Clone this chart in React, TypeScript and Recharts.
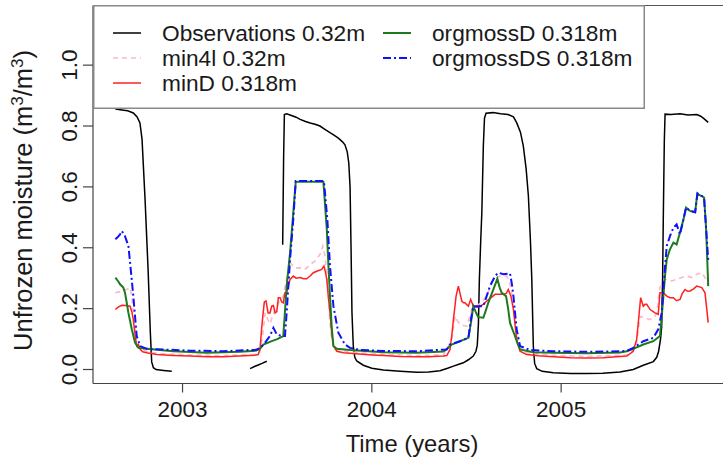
import React from 'react';
import { LineChart, Line, XAxis, YAxis, Legend, ReferenceLine, Label } from 'recharts';

type Pt = [number, number | null];

const FONT = '"Liberation Sans", Arial, Helvetica, sans-serif';

// time (decimal years) / unfrozen moisture
// null entries are the gaps in the observation record
const observations: Pt[] = [
  [2002.645, 0.856], [2002.68, 0.853], [2002.71, 0.85], [2002.74, 0.843], [2002.76, 0.83],
  [2002.775, 0.81], [2002.786, 0.757], [2002.802, 0.559], [2002.818, 0.329], [2002.83, 0.12],
  [2002.837, 0.025], [2002.846, 0.006], [2002.86, 0.0], [2002.9, -0.003], [2002.943, -0.006],
  [2003.1, null],
  [2003.357, 0.003], [2003.38, 0.01], [2003.4, 0.015], [2003.42, 0.02], [2003.445, 0.027],
  [2003.48, null],
  [2003.529, 0.41], [2003.534, 0.7], [2003.538, 0.838], [2003.55, 0.84], [2003.568, 0.836],
  [2003.6, 0.829], [2003.621, 0.822], [2003.65, 0.815], [2003.674, 0.81], [2003.7, 0.806],
  [2003.726, 0.8], [2003.75, 0.79], [2003.779, 0.778], [2003.8, 0.77], [2003.823, 0.76],
  [2003.845, 0.748], [2003.858, 0.738], [2003.87, 0.715], [2003.878, 0.68], [2003.885, 0.6],
  [2003.89, 0.406], [2003.895, 0.187], [2003.902, 0.077], [2003.91, 0.04], [2003.92, 0.028],
  [2003.955, 0.014], [2004.0, 0.004], [2004.061, -0.002], [2004.15, -0.006], [2004.237, -0.009],
  [2004.3, -0.008], [2004.36, -0.004], [2004.4, 0.004], [2004.431, 0.011], [2004.46, 0.017],
  [2004.483, 0.022], [2004.51, 0.032], [2004.536, 0.044], [2004.55, 0.06], [2004.557, 0.08],
  [2004.563, 0.15], [2004.568, 0.296], [2004.575, 0.42], [2004.581, 0.515], [2004.589, 0.735],
  [2004.595, 0.825], [2004.603, 0.842], [2004.64, 0.844], [2004.68, 0.84], [2004.72, 0.838],
  [2004.748, 0.83], [2004.765, 0.811], [2004.785, 0.78], [2004.8, 0.735], [2004.815, 0.66],
  [2004.827, 0.57], [2004.838, 0.42], [2004.845, 0.296], [2004.853, 0.077], [2004.86, 0.02],
  [2004.871, 0.003], [2004.9, -0.006], [2004.959, -0.011], [2005.05, -0.013], [2005.135, -0.013],
  [2005.22, -0.012], [2005.311, -0.008], [2005.381, 0.0], [2005.434, 0.014], [2005.487, 0.026],
  [2005.505, 0.04], [2005.515, 0.06], [2005.525, 0.1], [2005.531, 0.14], [2005.536, 0.3],
  [2005.54, 0.515], [2005.545, 0.75], [2005.549, 0.839], [2005.58, 0.838], [2005.628, 0.84],
  [2005.67, 0.836], [2005.716, 0.838], [2005.735, 0.833], [2005.751, 0.826], [2005.777, 0.812],
];

const min4l: Pt[] = [
  [2002.645, 0.252], [2002.665, 0.255], [2002.687, 0.261], [2002.705, 0.263], [2002.723, 0.269],
  [2002.732, 0.24], [2002.74, 0.186], [2002.75, 0.12], [2002.758, 0.088], [2002.776, 0.07],
  [2002.811, 0.06], [2002.864, 0.053], [2003.04, 0.048], [2003.216, 0.046], [2003.38, 0.05],
  [2003.409, 0.058], [2003.425, 0.12], [2003.436, 0.186], [2003.45, 0.165], [2003.462, 0.15],
  [2003.475, 0.175], [2003.489, 0.197], [2003.5, 0.205], [2003.515, 0.23], [2003.532, 0.24],
  [2003.55, 0.3], [2003.568, 0.351], [2003.594, 0.334], [2003.621, 0.334], [2003.647, 0.329],
  [2003.674, 0.345], [2003.7, 0.356], [2003.726, 0.378], [2003.741, 0.406], [2003.753, 0.373],
  [2003.762, 0.31], [2003.771, 0.241], [2003.78, 0.15], [2003.788, 0.099], [2003.806, 0.066],
  [2003.885, 0.057], [2004.061, 0.05], [2004.237, 0.046], [2004.378, 0.048], [2004.404, 0.077],
  [2004.422, 0.099], [2004.44, 0.175], [2004.452, 0.16], [2004.466, 0.148], [2004.501, 0.142],
  [2004.515, 0.17], [2004.528, 0.197], [2004.554, 0.208], [2004.58, 0.222], [2004.607, 0.241],
  [2004.625, 0.27], [2004.642, 0.296], [2004.677, 0.307], [2004.713, 0.307], [2004.73, 0.28],
  [2004.739, 0.252], [2004.752, 0.18], [2004.765, 0.121], [2004.783, 0.077], [2004.818, 0.055],
  [2004.959, 0.047], [2005.135, 0.043], [2005.311, 0.047], [2005.364, 0.049], [2005.399, 0.088],
  [2005.417, 0.175], [2005.443, 0.17], [2005.47, 0.164], [2005.49, 0.17], [2005.505, 0.186],
  [2005.515, 0.24], [2005.522, 0.269], [2005.549, 0.296], [2005.584, 0.291], [2005.61, 0.296],
  [2005.637, 0.302], [2005.663, 0.307], [2005.69, 0.302], [2005.716, 0.313], [2005.743, 0.318],
  [2005.766, 0.296], [2005.777, 0.274],
];

const minD: Pt[] = [
  [2002.645, 0.197], [2002.66, 0.205], [2002.679, 0.211], [2002.7, 0.21], [2002.723, 0.208],
  [2002.732, 0.19], [2002.74, 0.164], [2002.75, 0.11], [2002.758, 0.077], [2002.767, 0.082],
  [2002.776, 0.066], [2002.79, 0.058], [2002.811, 0.055], [2002.864, 0.049], [2002.95, 0.046],
  [2003.04, 0.044], [2003.13, 0.042], [2003.216, 0.042], [2003.3, 0.044], [2003.38, 0.047],
  [2003.4, 0.049], [2003.409, 0.066], [2003.42, 0.15], [2003.432, 0.222], [2003.441, 0.225],
  [2003.452, 0.186], [2003.462, 0.186], [2003.471, 0.208], [2003.48, 0.21], [2003.489, 0.186],
  [2003.498, 0.19], [2003.506, 0.236], [2003.515, 0.236], [2003.524, 0.222], [2003.532, 0.219],
  [2003.541, 0.252], [2003.55, 0.252], [2003.568, 0.296], [2003.585, 0.307], [2003.6, 0.3],
  [2003.621, 0.302], [2003.64, 0.298], [2003.656, 0.298], [2003.674, 0.307], [2003.691, 0.318],
  [2003.709, 0.323], [2003.735, 0.329], [2003.747, 0.34], [2003.755, 0.32], [2003.762, 0.296],
  [2003.77, 0.24], [2003.779, 0.186], [2003.788, 0.12], [2003.797, 0.077], [2003.815, 0.06],
  [2003.85, 0.055], [2003.885, 0.053], [2004.0, 0.048], [2004.061, 0.046], [2004.15, 0.043],
  [2004.237, 0.042], [2004.3, 0.042], [2004.378, 0.044], [2004.396, 0.046], [2004.413, 0.066],
  [2004.422, 0.11], [2004.431, 0.164], [2004.445, 0.241], [2004.457, 0.274], [2004.466, 0.25],
  [2004.475, 0.225], [2004.484, 0.219], [2004.492, 0.219], [2004.51, 0.208], [2004.522, 0.23],
  [2004.536, 0.208], [2004.554, 0.205], [2004.572, 0.208], [2004.59, 0.215], [2004.607, 0.225],
  [2004.63, 0.236], [2004.651, 0.247], [2004.695, 0.247], [2004.71, 0.25], [2004.721, 0.263],
  [2004.735, 0.24], [2004.748, 0.197], [2004.756, 0.15], [2004.765, 0.099], [2004.783, 0.06],
  [2004.818, 0.049], [2004.88, 0.045], [2004.959, 0.042], [2005.05, 0.039], [2005.135, 0.038],
  [2005.22, 0.039], [2005.311, 0.043], [2005.347, 0.044], [2005.381, 0.06], [2005.399, 0.099],
  [2005.41, 0.17], [2005.42, 0.236], [2005.434, 0.208], [2005.443, 0.214], [2005.452, 0.214],
  [2005.47, 0.197], [2005.496, 0.186], [2005.513, 0.181], [2005.518, 0.22], [2005.522, 0.252],
  [2005.54, 0.252], [2005.558, 0.241], [2005.575, 0.236], [2005.593, 0.236], [2005.61, 0.226],
  [2005.628, 0.23], [2005.64, 0.25], [2005.655, 0.263], [2005.668, 0.257], [2005.681, 0.258],
  [2005.7, 0.265], [2005.716, 0.274], [2005.743, 0.269], [2005.76, 0.252], [2005.777, 0.154],
];

const orgmossD: Pt[] = [
  [2002.645, 0.302], [2002.66, 0.29], [2002.67, 0.28], [2002.687, 0.269], [2002.696, 0.252],
  [2002.705, 0.22], [2002.714, 0.186], [2002.732, 0.132], [2002.749, 0.088], [2002.767, 0.071],
  [2002.811, 0.068], [2002.951, 0.06], [2003.128, 0.055], [2003.304, 0.058], [2003.39, 0.062],
  [2003.409, 0.068], [2003.427, 0.082], [2003.471, 0.093], [2003.5, 0.1], [2003.532, 0.11],
  [2003.54, 0.18], [2003.55, 0.274], [2003.568, 0.384], [2003.585, 0.515], [2003.598, 0.617],
  [2003.744, 0.617], [2003.753, 0.54], [2003.762, 0.461], [2003.77, 0.35], [2003.779, 0.241],
  [2003.788, 0.14], [2003.797, 0.077], [2003.815, 0.068], [2003.885, 0.064], [2004.061, 0.057],
  [2004.237, 0.055], [2004.378, 0.059], [2004.4, 0.07], [2004.422, 0.082], [2004.466, 0.093],
  [2004.51, 0.104], [2004.525, 0.16], [2004.536, 0.208], [2004.548, 0.19], [2004.562, 0.172],
  [2004.589, 0.17], [2004.6, 0.19], [2004.615, 0.219], [2004.642, 0.263], [2004.663, 0.298],
  [2004.675, 0.27], [2004.686, 0.252], [2004.709, 0.241], [2004.72, 0.2], [2004.73, 0.153],
  [2004.756, 0.11], [2004.77, 0.085], [2004.783, 0.066], [2004.853, 0.057], [2004.959, 0.055],
  [2005.135, 0.053], [2005.311, 0.056], [2005.347, 0.06], [2005.381, 0.068], [2005.434, 0.082],
  [2005.487, 0.093], [2005.522, 0.11], [2005.531, 0.17], [2005.54, 0.241], [2005.549, 0.31],
  [2005.558, 0.362], [2005.575, 0.395], [2005.593, 0.417], [2005.61, 0.411], [2005.628, 0.45],
  [2005.646, 0.493], [2005.66, 0.532], [2005.681, 0.521], [2005.708, 0.517], [2005.714, 0.55],
  [2005.72, 0.576], [2005.743, 0.57], [2005.755, 0.565], [2005.76, 0.52], [2005.766, 0.461],
  [2005.777, 0.274],
];

const orgmossDS: Pt[] = [
  [2002.645, 0.428], [2002.658, 0.435], [2002.67, 0.444], [2002.679, 0.455], [2002.688, 0.447],
  [2002.696, 0.438], [2002.714, 0.406], [2002.723, 0.351], [2002.74, 0.241], [2002.758, 0.11],
  [2002.776, 0.077], [2002.811, 0.068], [2003.04, 0.062], [2003.216, 0.06], [2003.39, 0.065],
  [2003.409, 0.071], [2003.436, 0.088], [2003.462, 0.11], [2003.48, 0.137], [2003.498, 0.115],
  [2003.524, 0.11], [2003.541, 0.11], [2003.55, 0.186], [2003.568, 0.362], [2003.585, 0.493],
  [2003.598, 0.619], [2003.747, 0.619], [2003.765, 0.493], [2003.779, 0.34], [2003.797, 0.208],
  [2003.823, 0.121], [2003.858, 0.082], [2003.885, 0.071], [2003.938, 0.064], [2004.061, 0.061],
  [2004.237, 0.06], [2004.396, 0.066], [2004.413, 0.082], [2004.466, 0.093], [2004.51, 0.104],
  [2004.525, 0.17], [2004.536, 0.208], [2004.562, 0.208], [2004.589, 0.208], [2004.624, 0.274],
  [2004.651, 0.307], [2004.668, 0.318], [2004.695, 0.313], [2004.73, 0.316], [2004.74, 0.28],
  [2004.748, 0.241], [2004.765, 0.132], [2004.783, 0.077], [2004.836, 0.064], [2004.959, 0.06],
  [2005.135, 0.058], [2005.311, 0.06], [2005.347, 0.061], [2005.381, 0.071], [2005.434, 0.093],
  [2005.487, 0.104], [2005.513, 0.132], [2005.531, 0.186], [2005.549, 0.34], [2005.558, 0.406],
  [2005.575, 0.438], [2005.593, 0.466], [2005.61, 0.477], [2005.628, 0.444], [2005.646, 0.493],
  [2005.66, 0.532], [2005.681, 0.521], [2005.708, 0.517], [2005.72, 0.579], [2005.743, 0.57],
  [2005.755, 0.565], [2005.766, 0.461], [2005.777, 0.36],
];

const xTicks = [2003, 2004, 2005];
const yTicks = [0, 0.2, 0.4, 0.6, 0.8, 1.0];

const series = [
  { name: 'Observations 0.32m', pts: observations, color: '#000000', width: 1.5, dash: undefined },
  { name: 'min4l 0.32m', pts: min4l, color: '#ffb6c8', width: 1.6, dash: '5 4' },
  { name: 'minD 0.318m', pts: minD, color: '#ff2020', width: 1.5, dash: undefined },
  { name: 'orgmossD 0.318m', pts: orgmossD, color: '#1e7a1e', width: 2, dash: undefined },
  { name: 'orgmossDS 0.318m', pts: orgmossDS, color: '#1010ff', width: 2, dash: '8 3 2 3' },
];

const toRows = (pts: Pt[]) => pts.map(([t, v]) => ({ t, v }));

const YTick = (props: any) => {
  const { x, y, payload } = props;
  return (
    <text x={x} y={y} transform={`rotate(-90 ${x} ${y})`} textAnchor="middle"
      fontSize={22.5} fontFamily={FONT} fill="#1a1a1a">
      {Number(payload.value).toFixed(1)}
    </text>
  );
};

const YTitle = (props: any) => {
  const vb = props.viewBox;
  const x = vb.x + 32;
  const y = vb.y + vb.height / 2 + 6;
  return (
    <text x={x} y={y} transform={`rotate(-90 ${x} ${y})`} textAnchor="middle"
      fontSize={25.5} fontFamily={FONT} fill="#1a1a1a">
      Unfrozen moisture (m<tspan dy={-9} fontSize={17}>3</tspan>
      <tspan dy={9}>/m</tspan><tspan dy={-9} fontSize={17}>3</tspan><tspan dy={9}>)</tspan>
    </text>
  );
};

const XTitle = (props: any) => {
  const vb = props.viewBox;
  return (
    <text x={vb.x + vb.width / 2 - 3} y={vb.y + 68.5} textAnchor="middle"
      fontSize={23.8} fontFamily={FONT} fill="#1a1a1a">
      Time (years)
    </text>
  );
};

const LegendBox = () => (
  <svg width={552} height={104} style={{ display: 'block' }}>
    <rect x={0.75} y={0.75} width={550.5} height={102.5} fill="#fff" stroke="#888" strokeWidth={1.5} />
    {series.map((s, i) => {
      const col = i < 3 ? 0 : 1;
      const row = i < 3 ? i : i - 3;
      const lx = col === 0 ? 20 : 290;
      const tx = col === 0 ? 69 : 339;
      const by = 36 + row * 25;
      return (
        <g key={s.name}>
          <line x1={lx} x2={lx + 28} y1={by - 8} y2={by - 8} stroke={s.color}
            strokeWidth={s.width} strokeDasharray={s.dash} />
          <text x={tx} y={by} fontSize={22.7} fontFamily={FONT} fill="#1a1a1a">{s.name}</text>
        </g>
      );
    })}
  </svg>
);

export default function App() {
  return (
    <div style={{ position: 'absolute', left: 0, top: 0, width: 723, height: 458, overflow: 'hidden', background: '#fff' }}>
      <LineChart width={745} height={458} margin={{ top: 5.5, right: 8, bottom: 0, left: 0 }}>
        <XAxis dataKey="t" type="number" domain={[2002.527, 2005.929]} allowDataOverflow
          ticks={xTicks} tickSize={9} tickMargin={8.5} height={74.5}
          axisLine={{ stroke: '#444', strokeWidth: 1.2 }} tickLine={{ stroke: '#444', strokeWidth: 1.2 }}
          tick={{ fontSize: 22.5, fill: '#1a1a1a', fontFamily: FONT }}>
          <Label content={XTitle} />
        </XAxis>
        <YAxis type="number" domain={[-0.046, 1.196]} allowDataOverflow ticks={yTicks}
          width={93} tickSize={10} tickMargin={6} tick={YTick}
          axisLine={{ stroke: '#444', strokeWidth: 1.2 }} tickLine={{ stroke: '#444', strokeWidth: 1.2 }}>
          <Label content={YTitle} />
        </YAxis>
        <ReferenceLine y={1.196} stroke="#555" strokeWidth={1.2} />
        {series.map((s) => (
          <Line key={s.name} data={toRows(s.pts)} dataKey="v" name={s.name} type="linear"
            stroke={s.color} strokeWidth={s.width} strokeDasharray={s.dash}
            dot={false} activeDot={false} connectNulls={false} isAnimationActive={false} />
        ))}
        <Legend layout="horizontal" verticalAlign="middle" align="center" content={LegendBox}
          wrapperStyle={{ left: 93, top: 5, width: 552, height: 104 }} />
      </LineChart>
    </div>
  );
}
